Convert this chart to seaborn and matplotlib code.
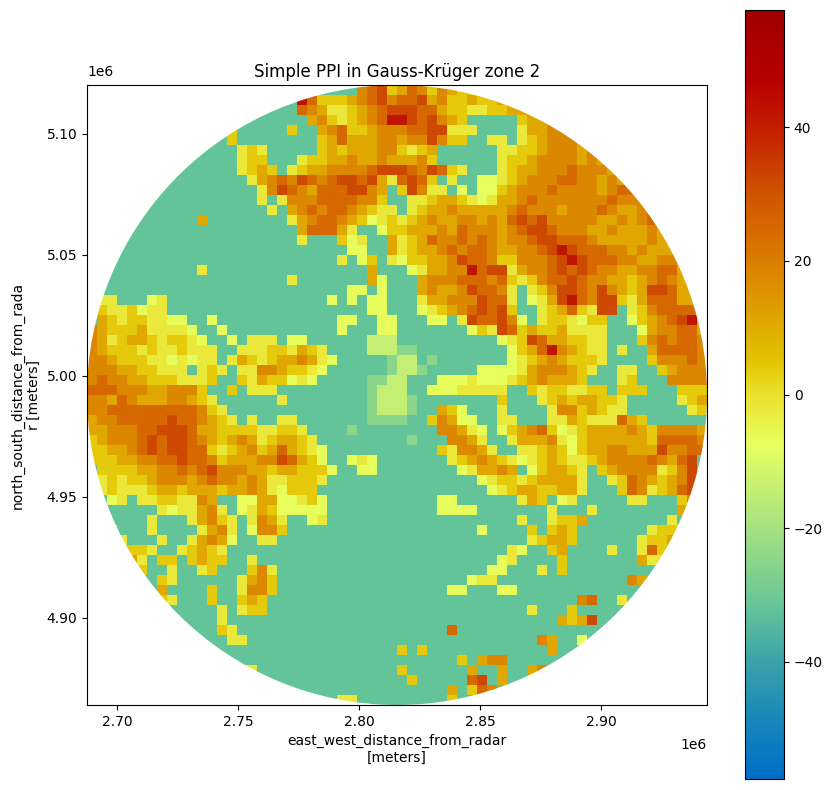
import numpy as np
import matplotlib
matplotlib.use("Agg")
import matplotlib.pyplot as plt
from matplotlib.colors import LinearSegmentedColormap
from matplotlib.patches import Circle
import seaborn as sns

# reflectivity on a coarse grid, one letter per cell
LEVELS = {".": -32, "q": -25, "p": -14, "a": -7, "b": -2, "c": 4, "d": 11, "e": 18, "f": 25, "g": 32, "h": 42}

north_west = [
    "...........................efgc",
    ".....................hfcccdefge",
    ".....................fedbbcdefg",
    "......................decbcdefh",
    "..............c.....c..defccdee",
    "..............c........cdfdddee",
    "...............bcb.....cdcdddee",
    "...............bcc...bccddedded",
    "...............bcdc.bcddeeeefgg",
    "................bdefegfefggfgdb",
    ".................begfedfffgged.",
    ".................b.beeeffffeec.",
    "..................b.defeffedcbb",
    "...........d........bdeffedcabc",
    ".....................dfffdb..ac",
    ".....................b...cab..d",
    "..........................aa..d",
    ".........................b.ac.b",
    "...........b................d..",
    "....................b.......da.",
    "..........................aa.a.",
    ".bb...ab................a.a.aa.",
    ".cbbcabb....................aa.",
    ".dcbccbbaa..a............aa..aa",
    "edcccdbbbba..a...........a...aa",
    "edbcddcbccba..a.bbb.aa......ppp",
    "edcccbcbbcbbb..bbbccbdcb....ppp",
    "eedcccbbababb.bdcbcddedba.....q",
    "eeeddccbbb.bcb.bbeedccba......q",
    "efeeddcccbbbc..cbdccaba.....qqp",
    "fffeeeddeeec..c.bbb.........qpp",
]

north_east = [
    "dfecedcc",
    "ffgdeccdccd",
    "ggffdccbbccddd",
    "hgfgedc.....cddd",
    "effggbbb....bddeed",
    "deegecc..bb.bcdeeed",
    "cbcd......bbccdeeede",
    "ddec......bccdeeeeded",
    "gfegfcb...bcddeeefeeed",
    "fgfc.b..aabcdeeeffeeded",
    "cgebb.a.aacdeeefeeeedeff",
    ".bbcddcbabddefeeeeeeefeee",
    ".bcddedddddefeeedeeefeddef",
    "bcdeddeededfgfgeeeeeddedef",
    "cdddedfeeedefggfeeeddeddded",
    "bcdfeefefedeefggfffeddddded",
    "bcddefeffeddeefghgfffeededdd",
    "accddegffecceeefghgfffeeddee",
    ".abddeehfggbdeefgfgfeeddeeffd",
    "..deeefffefcbceffgfeeddcdefed",
    "..deddegffeb.bceggfegedcdggfdd",
    "..bddeeegffb.abdghfeggcbdfffdd",
    "..abcdefgfgc..bcdfcbgg.bceffffd",
    "...aa.bgffgea.bccbacc..acdefghd",
    ".......acbgfcdccdbbbb...adeeffd",
    "..........abcgfddccbb...cefeffe",
    "qq.........acdfhedcbb.b..dffffe",
    "pp.q.......abcdedcccb....ceeefe",
    "ppq.....aaaabdeeedcb..bb..cdeee",
    "p...aaabaaabcdedddc...bc...eeee",
    "p..aaabbbbb..cbccbbcc.ccc...ccc",
]

south_west = [
    "eedfedddeedcb......b........qpp",
    "eefffffffffecb..............qpp",
    "deefffffgffedcb.b..bb.......qqq",
    "ddeeeffgggfddccccbbccb....q....",
    "cdeeefgfggfedcdedbcddcb........",
    "ccddefgfggffcbcdecdfdcba.......",
    "cccddeeffgffecdddeegfdca..aba..",
    ".ccccddeefefgeeeddcddccca..aa..",
    ".bcbccdeeedefeededbbcccb.......",
    ".bcbbbcddcdddcddedbaccc........",
    "..ab.bbccbbed..aaddaabca.......",
    ".......babbdeb.abdcaaaaa.......",
    "......b...bdecb.bedb..ab.......",
    "..b...b....bdeb.aeec...........",
    "...b...b..bdeda..bb............",
    "...cccb..bcdcb.................",
    "....db.cc.cdcc..b..............",
    ".....c..b..bc...ceb............",
    ".......cb......bdec............",
    ".......d....c..beec............",
    ".......cb...c..cdc.............",
    ".............b.bcc.............",
    ".............b.................",
    ".............cb................",
    "..............bb...............",
    "...............................",
    "...............................",
    "...............bb..............",
    "...............................",
    "...............................",
    ".........................bb....",
]

south_east = [
    "pq........c...bcdcddccb.....bcd",
    "pq..dca...b....beecdcbb......bc",
    "q..cedaa..bb...bbdcbbbfdc......",
    "....eedba.acdefcabcddddedceeeed",
    ".q...eedb..bdddebacddddddcffffe",
    "....cbeedb..bbcdcacddeedddgeeff",
    ".....bcdedcbabcdcbbcdeeeefedfg.",
    "......abdded.acddcb.cdeeeebceg.",
    "........abccbcddddb..bcfedcdeg.",
    ".........abcddccddb...cfebcdfg.",
    "....aa......bdc.ab.....bb...ce.",
    "....aaaa.......b...b........d..",
    "............b..bccd........b...",
    "........a....c.cdc.......bccb..",
    ".............bcddc......bccd...",
    "...........ba..cd....b..bfc....",
    "..........ab....c.......dbb....",
    ".........aa...b.c..............",
    ".......abb.............ed......",
    ".....aa...aa...................",
    "..................ef..b........",
    ".............b...c.............",
    "................dcdg...........",
    ".....f.........................",
    "..............ed..a............",
    "c.c............d...............",
    "......c.dee....................",
    "c......d..d..de................",
    ".c.....fg.d....................",
    ".....d.cfe.....................",
    ".....c.........................",
]

# colour bar stops: value and colour
cbar_values = [-57.6, -48, -40, -32, -20, -7.5, 0, 5, 20, 30, 40, 47, 57.6]
cbar_colors = ["#006ec6", "#1a8ab8", "#3ba3aa", "#65c498", "#a6e182", "#e6ff5f", "#ebe12d",
               "#e2c300", "#da7d00", "#d05500", "#c31e00", "#b70000", "#a00000"]
cbar_ticks = [-40, -20, 0, 20, 40]

x_ticks = [2.70e6, 2.75e6, 2.80e6, 2.85e6, 2.90e6]
y_ticks = [4.90e6, 4.95e6, 5.00e6, 5.05e6, 5.10e6]
x_left, x_right = 2687600, 2943800
y_top, y_bottom = 5120200, 4864000


def to_grid(rows_left, rows_right):
    out = []
    for left, right in zip(rows_left, rows_right):
        text = left.ljust(31, ".")[:31] + right.ljust(31, ".")[:31]
        out.append([LEVELS[c] for c in text])
    return out


grid = np.array(to_grid(north_west, north_east) + to_grid(south_west, south_east), dtype=float)
n = grid.shape[0]

pos = [(v - cbar_values[0]) / (cbar_values[-1] - cbar_values[0]) for v in cbar_values]
cmap = LinearSegmentedColormap.from_list("homeyer", list(zip(pos, cbar_colors)))

W, H = 832, 790
fig = plt.figure(figsize=(W / 100, H / 100), dpi=100)
ax = fig.add_axes([87 / W, 1 - 705 / H, 620 / W, 620 / H])
cax = fig.add_axes([745 / W, 1 - 779 / H, 39 / W, 769 / H])

sns.heatmap(grid, ax=ax, cbar_ax=cax, cmap=cmap, vmin=cbar_values[0], vmax=cbar_values[-1],
            xticklabels=False, yticklabels=False, cbar_kws={"ticks": cbar_ticks})

# radar range circle
ring = Circle((n / 2, n / 2), n / 2, transform=ax.transData)
ax.collections[0].set_clip_path(ring)

ax.set_xticks([(x - x_left) / (x_right - x_left) * n for x in x_ticks])
ax.set_xticklabels([f"{x / 1e6:.2f}" for x in x_ticks])
ax.set_yticks([(y_top - y) / (y_top - y_bottom) * n for y in y_ticks])
ax.set_yticklabels([f"{y / 1e6:.2f}" for y in y_ticks], rotation=0)
ax.tick_params(length=3.5, width=0.8, labelsize=10)
for spine in ax.spines.values():
    spine.set_visible(True)
    spine.set_linewidth(0.8)
    spine.set_color("black")

ax.set_title("Simple PPI in Gauss-Krüger zone 2", fontsize=12)
ax.set_xlabel("east_west_distance_from_radar\n[meters]", fontsize=10)
ax.set_ylabel("north_south_distance_from_rada\nr [meters]", fontsize=10)
ax.text(1.0, -0.054, "1e6", transform=ax.transAxes, ha="right", va="top", fontsize=10)
ax.text(0.0, 1.01, "1e6", transform=ax.transAxes, ha="left", va="bottom", fontsize=10)

cbar = ax.collections[0].colorbar
cbar.outline.set_visible(True)
cbar.outline.set_linewidth(0.8)
cbar.outline.set_edgecolor("black")
cax.tick_params(length=3.5, width=0.8, labelsize=10)

fig.savefig("out.png", dpi=100)
plt.close(fig)
